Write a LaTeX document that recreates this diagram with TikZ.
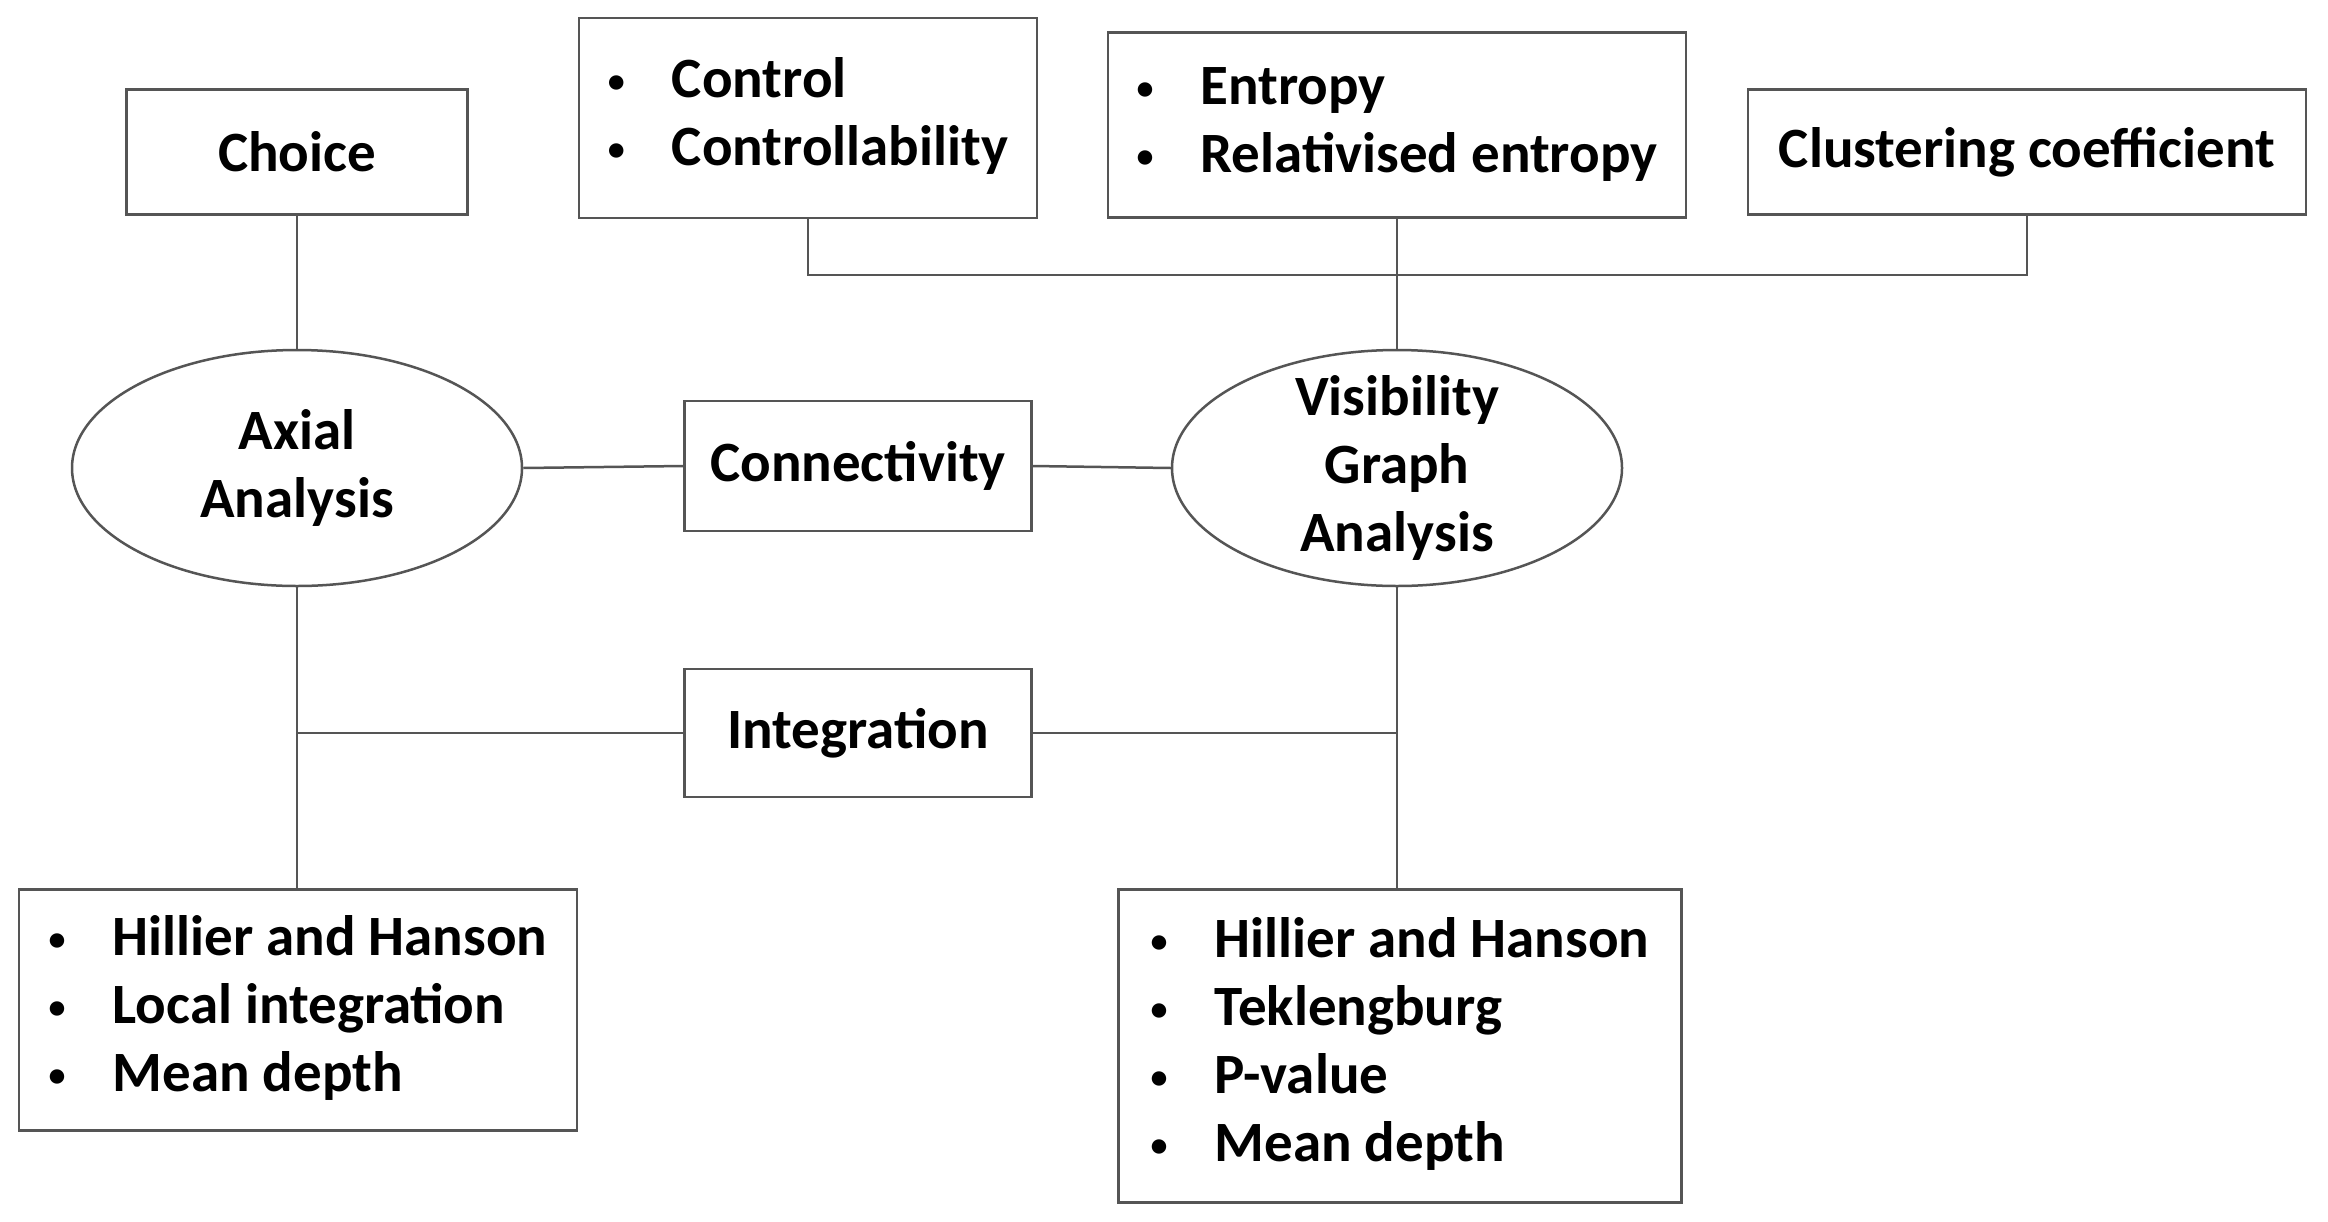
\documentclass[tikz,border=0pt]{standalone}
\usepackage{fontspec}
\setmainfont{Carlito}
\usetikzlibrary{shapes.geometric}
\definecolor{linegray}{HTML}{555555}
\newcommand{\bdot}{\raisebox{5pt}{\fontsize{34}{34}\selectfont\textbullet}}
\newcommand{\blist}[1]{\begin{tabular}{@{}p{64pt}@{}l@{}}#1\end{tabular}}
\begin{document}
\begin{tikzpicture}[x=1pt,y=-1pt,
  every node/.style={font=\fontsize{57}{68}\selectfont\bfseries, text=black},
  box/.style={draw=linegray, line width=2.5pt, rectangle, inner sep=0pt, align=center},
  oval/.style={draw=linegray, line width=2.5pt, ellipse, inner sep=0pt,
    minimum width=450pt, minimum height=236pt},
  link/.style={draw=linegray, line width=2.5pt}]
\useasboundingbox[fill=white] (0,0) rectangle (2328,1221);
% boxes
\node[box, minimum width=341pt, minimum height=125pt] (choice) at (297,152) {Choice};
\node[box, minimum width=458pt, minimum height=200pt] (control) at (808,118)
  {\blist{\bdot & Control\\ \bdot & Controllability}};
\node[box, minimum width=578pt, minimum height=185pt] (entropy) at (1397,125)
  {\blist{\bdot & Entropy\\ \bdot & Relativised entropy}};
\node[box, minimum width=558pt, minimum height=125pt] (clust) at (2027,152) {Clustering coefficient};
\node[oval, label={[align=center]center:Axial\\Analysis}] (axial) at (297,468) {};
\node[oval, label={[align=center]center:Visibility\\Graph\\Analysis}] (vga) at (1397,468) {};
\node[box, minimum width=347pt, minimum height=130pt] (conn) at (858,466) {Connectivity};
\node[box, minimum width=347pt, minimum height=128pt] (integ) at (858,733) {Integration};
\node[box, minimum width=558pt, minimum height=241pt] (ll) at (298,1010)
  {\blist{\bdot & Hillier and Hanson\\ \bdot & Local integration\\ \bdot & Mean depth}};
\node[box, minimum width=563pt, minimum height=313pt] (lr) at (1400,1046)
  {\blist{\bdot & Hillier and Hanson\\ \bdot & Teklengburg\\ \bdot & P-value\\ \bdot & Mean depth}};
\coordinate (bus) at (0,275);
% connectors
\draw[link] (choice.south) -- (axial.north);
\draw[link] (control.south) -- (control.south |- bus) -- (clust.south |- bus) -- (clust.south);
\draw[link] (entropy.south) -- (vga.north);
\draw[link] (axial.east) -- (conn.west);
\draw[link] (conn.east) -- (vga.west);
\draw[link] (axial.south) -- (axial.south |- ll.north);
\draw[link] (vga.south) -- (vga.south |- lr.north);
\draw[link] (integ.west) -- (axial.south |- integ.west);
\draw[link] (integ.east) -- (vga.south |- integ.east);
\end{tikzpicture}
\end{document}
